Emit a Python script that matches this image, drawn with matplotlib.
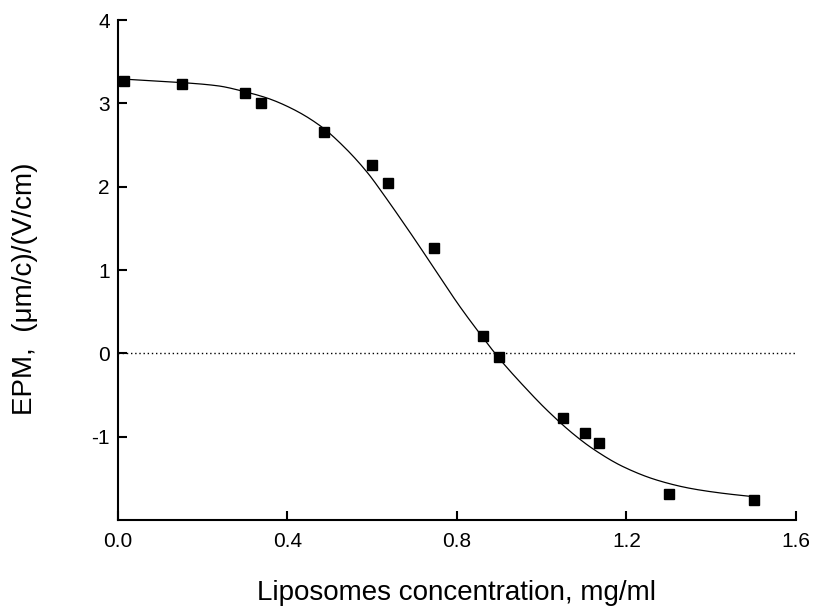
import numpy as np
import matplotlib
matplotlib.use("Agg")
import matplotlib.pyplot as plt

plt.rcParams['font.family'] = ['Liberation Sans', 'DejaVu Sans']

# Measured data points
conc = [0.015, 0.15, 0.30, 0.337, 0.486, 0.60, 0.637, 0.746, 0.861, 0.899,
        1.05, 1.102, 1.135, 1.30, 1.50]
epm = [3.27, 3.23, 3.12, 3.00, 2.66, 2.26, 2.04, 1.26, 0.21, -0.04,
       -0.78, -0.96, -1.08, -1.69, -1.76]

# Fitted curve
fit_x = [0.016, 0.149, 0.236, 0.299, 0.354, 0.417, 0.480, 0.535, 0.590, 0.629,
         0.669, 0.708, 0.759, 0.807, 0.858, 0.901, 0.957, 1.012, 1.075, 1.122,
         1.192, 1.271, 1.350, 1.428, 1.499]
fit_y = [3.29, 3.25, 3.21, 3.14, 3.06, 2.92, 2.72, 2.47, 2.16, 1.89,
         1.60, 1.31, 0.92, 0.56, 0.21, -0.07, -0.39, -0.68, -0.97, -1.15,
         -1.36, -1.52, -1.62, -1.68, -1.72]

xticks = [0.0, 0.4, 0.8, 1.2, 1.6]
xtick_labels = ["0.0", "0.4", "0.8", "1.2", "1.6"]
yticks = [-1, 0, 1, 2, 3, 4]
ytick_labels = ["-1", "0", "1", "2", "3", "4"]


def pchip(x, y, xn):
    x = np.asarray(x, float); y = np.asarray(y, float)
    h = np.diff(x); d = np.diff(y) / h
    m = np.zeros_like(y)
    for k in range(1, len(x) - 1):
        if d[k - 1] * d[k] > 0:
            w1 = 2 * h[k] + h[k - 1]; w2 = h[k] + 2 * h[k - 1]
            m[k] = (w1 + w2) / (w1 / d[k - 1] + w2 / d[k])
    m[0] = d[0]; m[-1] = d[-1]
    idx = np.clip(np.searchsorted(x, xn) - 1, 0, len(x) - 2)
    t = (xn - x[idx]) / h[idx]
    h00 = 2 * t**3 - 3 * t**2 + 1; h10 = t**3 - 2 * t**2 + t
    h01 = -2 * t**3 + 3 * t**2; h11 = t**3 - t**2
    return (h00 * y[idx] + h10 * h[idx] * m[idx] + h01 * y[idx + 1]
            + h11 * h[idx] * m[idx + 1])


fig = plt.figure(figsize=(8.2, 6.14), dpi=100)
ax = fig.add_axes([0.1439, 0.1531, 0.8268, 0.8143])

xs = np.linspace(fit_x[0], fit_x[-1], 400)
ax.plot(xs, pchip(fit_x, fit_y, xs), color='black', lw=0.9, zorder=2)
ax.plot(conc, epm, ls='none', marker='s', ms=7.2, color='black', zorder=3)
ax.axhline(0, color='black', lw=1.0, ls=(0, (1, 2)), zorder=1)

ax.set_xlim(0, 1.6)
ax.set_ylim(-2, 4)
ax.set_xticks(xticks)
ax.set_xticklabels(xtick_labels)
ax.set_yticks(yticks)
ax.set_yticklabels(ytick_labels)

for s in ['top', 'right']:
    ax.spines[s].set_visible(False)
for s in ['left', 'bottom']:
    ax.spines[s].set_linewidth(1.5)

ax.tick_params(direction='in', length=6.5, width=1.5, labelsize=15, color='black')
ax.tick_params(axis='x', pad=9)
ax.tick_params(axis='y', pad=6)

ax.set_xlabel("Liposomes concentration, mg/ml", fontsize=20)
ax.set_ylabel("EPM,  (\u03bcm/c)/(V/cm)", fontsize=20)
ax.xaxis.set_label_coords(0.5, -0.121)
ax.yaxis.set_label_coords(-0.118, 0.462)

fig.savefig("out.png", dpi=100)
